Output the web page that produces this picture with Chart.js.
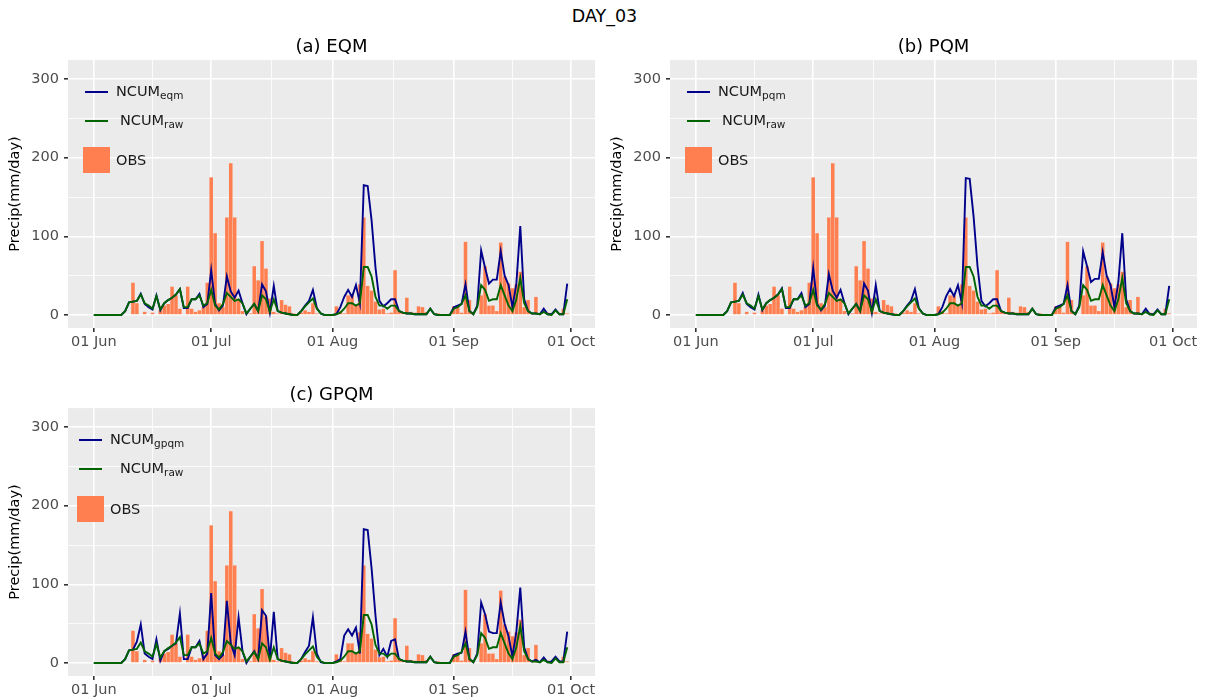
<!DOCTYPE html>
<html>
<head>
<meta charset="utf-8">
<script src="https://cdn.jsdelivr.net/npm/chart.js@4.4.0/dist/chart.umd.min.js"></script>
<style>
  body { margin: 0; background: #fff; font-family: "DejaVu Sans", sans-serif; }
  #wrap { position: relative; width: 1209px; height: 700px; overflow: hidden; }
  canvas { position: absolute; }
  .main { position: absolute; left: 0; width: 1209px; top: 6px; text-align: center; font-size: 17.5px; color: #000; }
  .lg { position: absolute; font-size: 14.5px; line-height: 16px; color: #1a1a1a; white-space: nowrap; }
  .lg sub { font-size: 10.5px; vertical-align: -3px; line-height: 0; }
  .ln { position: absolute; height: 2px; width: 23px; }
  .bx { position: absolute; width: 27px; height: 26px; background: #FF7F50; }
</style>
</head>
<body>
<div id="wrap">
  <div class="main">DAY_03</div>
  <canvas id="pa" width="600" height="352" style="left:0;top:0"></canvas>
  <canvas id="pb" width="600" height="352" style="left:602px;top:0"></canvas>
  <canvas id="pc" width="600" height="352" style="left:0;top:348px"></canvas>
</div>
<script>
// day index 0 = 01 Jun ... 121 = 30 Sep
const tickDays = [0, 30, 61, 92, 122];
const tickLabels = ['01 Jun', '01 Jul', '01 Aug', '01 Sep', '01 Oct'];
const minorDays = [15, 45.5, 76.5, 107];
const yTicks = [0, 50, 100, 150, 200, 250, 300];

const obs = [
  0,0,0,0,0,0,0,0,0,0, 41,15,0,4,0,3,0,6,12,14, 36,25,8,0,36,8,4,6,10,41,
  175,104,15,10,124,193,124,20,5,0, 2,62,44,94,59,21,4,2,19,13, 11,2,0,3,6,4,15,2,0,0, 0,
  0,11,5,2,25,25,13,39,124,37, 31,17,7,8,2,3,57,6,3,22, 4,3,11,10,4,0,0,2,0,0, 0,
  11,10,3,93,19,4,0,25,62,12, 12,5,92,49,40,34,39,55,10,19, 2,23,2,0,3,2,0,2,8,2
];
const ncumRaw = [
  0,0,0,0,0,0,0,0,5,16, 17,18,26,15,12,8,24,7,15,19, 22,26,33,10,10,20,20,25,12,15,
  32,12,7,14,28,23,18,20,15,2, 8,14,5,25,20,4,20,5,3,2, 1,0,0,5,11,16,21,8,2,0, 0,
  0,1,3,8,15,15,12,15,61,61, 49,23,12,12,8,12,12,5,3,2, 2,1,1,1,1,8,1,0,0,0, 0,
  8,10,14,25,5,1,10,38,32,18, 20,20,38,25,12,5,20,47,15,5, 2,2,1,4,1,0,6,1,1,20
];
const ncumEqm = [
  0,0,0,0,0,0,0,0,5,16, 17,18,27,14,10,7,25,6,15,19, 22,26,33,9,9,20,20,27,10,14,
  57,14,6,12,49,30,22,31,15,1, 8,14,5,39,30,3,37,5,3,2, 1,0,0,5,12,18,32,9,2,0, 0,
  0,1,10,23,32,23,38,15,165,164, 120,60,18,11,15,20,20,5,3,2, 2,1,1,1,1,8,1,0,0,0, 0,
  10,12,14,39,5,1,12,82,60,40, 45,45,81,50,38,10,40,113,20,5, 2,2,1,8,1,1,7,1,1,40
];
const ncumPqm = [
  0,0,0,0,0,0,0,0,5,16, 17,18,28,14,10,7,26,6,15,19, 22,26,34,9,9,20,20,28,10,14,
  60,14,6,12,52,31,22,32,15,1, 8,14,5,40,31,3,38,5,3,2, 1,0,0,5,12,18,33,9,2,0, 0,
  0,1,10,24,33,24,38,15,174,173, 125,62,18,11,15,20,20,5,3,2, 2,1,1,1,1,8,1,0,0,0, 0,
  10,12,14,38,5,1,12,81,62,42, 46,46,80,50,38,10,42,104,20,5, 2,2,1,8,1,1,7,1,1,37
];
const ncumGpqm = [
  0,0,0,0,0,0,0,0,5,16, 17,27,49,12,8,5,30,3,15,18, 22,25,63,5,5,20,20,28,5,12,
  89,10,5,10,79,25,10,58,15,0, 8,15,5,67,60,5,65,5,3,2, 1,0,0,5,14,22,58,12,1,0, 0,
  0,2,5,35,43,35,45,12,170,169, 120,60,10,18,8,28,30,5,3,2, 2,1,1,1,1,8,1,0,0,0, 0,
  10,12,13,40,5,1,12,77,62,40, 38,38,77,50,34,8,40,96,20,5, 2,4,1,7,1,2,8,2,2,40
];

Chart.defaults.font.family = '"DejaVu Sans", sans-serif';

const toXY = arr => arr.map((v, i) => ({ x: i, y: v }));
const isMajorX = v => tickDays.includes(v);
const isMajorY = v => v % 100 === 0;

// grey ggplot panel
const panelBg = {
  id: 'panelBg',
  beforeDraw(chart) {
    const { ctx, chartArea: a } = chart;
    ctx.save();
    ctx.fillStyle = '#EBEBEB';
    ctx.fillRect(a.left, a.top, a.right - a.left, a.bottom - a.top);
    ctx.restore();
  }
};

function makePanel(id, title, series) {
  return new Chart(document.getElementById(id), {
    type: 'bar',
    data: {
      datasets: [
        { type: 'line', label: 'bc', data: toXY(series), borderColor: '#00008B', borderWidth: 1.9,
          pointRadius: 0, tension: 0, order: 2 },
        { type: 'line', label: 'raw', data: toXY(ncumRaw), borderColor: '#006400', borderWidth: 1.9,
          pointRadius: 0, tension: 0, order: 1 },
        { type: 'bar', label: 'OBS', data: toXY(obs), backgroundColor: '#FF7F50',
          barPercentage: 0.9, categoryPercentage: 1, order: 3 }
      ]
    },
    options: {
      responsive: false,
      animation: false,
      layout: { padding: { right: 5 } },
      plugins: {
        legend: { display: false },
        tooltip: { enabled: false },
        title: { display: true, text: title, fullSize: false, color: '#000',
                 font: { size: 18, weight: 'normal' }, padding: { top: 36.5, bottom: 2 } }
      },
      scales: {
        x: {
          type: 'linear', min: -6.6, max: 128.1, offset: false,
          afterBuildTicks: s => { s.ticks = tickDays.concat(minorDays).sort((a, b) => a - b).map(v => ({ value: v })); },
          ticks: { autoSkip: false, maxRotation: 0, color: '#4D4D4D', font: { size: 14.5 }, padding: 2,
                   callback: v => isMajorX(v) ? tickLabels[tickDays.indexOf(v)] : '' },
          grid: { offset: false, color: '#fff', tickLength: 4,
                  lineWidth: c => (c.tick && isMajorX(c.tick.value)) ? 1.6 : 0.8,
                  tickColor: c => (c.tick && isMajorX(c.tick.value)) ? '#333' : 'rgba(0,0,0,0)' },
          border: { display: false },
          afterFit: s => { s.height = 24; }
        },
        y: {
          min: -16.5, max: 324,
          afterBuildTicks: s => { s.ticks = yTicks.map(v => ({ value: v })); },
          ticks: { color: '#4D4D4D', font: { size: 14.5 }, padding: 5,
                   callback: v => isMajorY(v) ? String(v) : '' },
          grid: { color: '#fff', tickLength: 4,
                  lineWidth: c => (c.tick && isMajorY(c.tick.value)) ? 1.6 : 0.8,
                  tickColor: c => (c.tick && isMajorY(c.tick.value)) ? '#333' : 'rgba(0,0,0,0)' },
          border: { display: false },
          title: { display: true, text: 'Precip(mm/day)', color: '#000', font: { size: 14.5 },
                   padding: { top: 7, bottom: 0 } },
          afterFit: s => { s.width = 68; }
        }
      }
    },
    plugins: [panelBg]
  });
}

makePanel('pa', '(a) EQM', ncumEqm);
makePanel('pb', '(b) PQM', ncumPqm);
makePanel('pc', '(c) GPQM', ncumGpqm);

// legends with subscripts (HTML so the sub text stays real text)
const wrap = document.getElementById('wrap');
function el(cls, left, top, html, color) {
  const d = document.createElement('div');
  d.className = cls;
  d.style.left = left + 'px';
  d.style.top = top + 'px';
  if (html) d.innerHTML = html;
  if (color) d.style.background = color;
  wrap.appendChild(d);
}
function legend(lx, t1x, t2x, tObsX, lineY1, lineY2, boxX, boxY, sub) {
  el('ln', lx, lineY1, null, '#00008B');
  el('lg', t1x, lineY1 - 8, 'NCUM<sub>' + sub + '</sub>');
  el('ln', lx, lineY2, null, '#006400');
  el('lg', t2x, lineY2 - 8, 'NCUM<sub>raw</sub>');
  el('bx', boxX, boxY);
  el('lg', tObsX, boxY + 5, 'OBS');
}
legend(85, 116, 120, 116, 91, 120, 83, 147, 'eqm');
legend(687, 718, 722, 718, 91, 120, 685, 147, 'pqm');
legend(79, 110, 120, 110, 439, 468, 77, 496, 'gpqm');
</script>
</body>
</html>
